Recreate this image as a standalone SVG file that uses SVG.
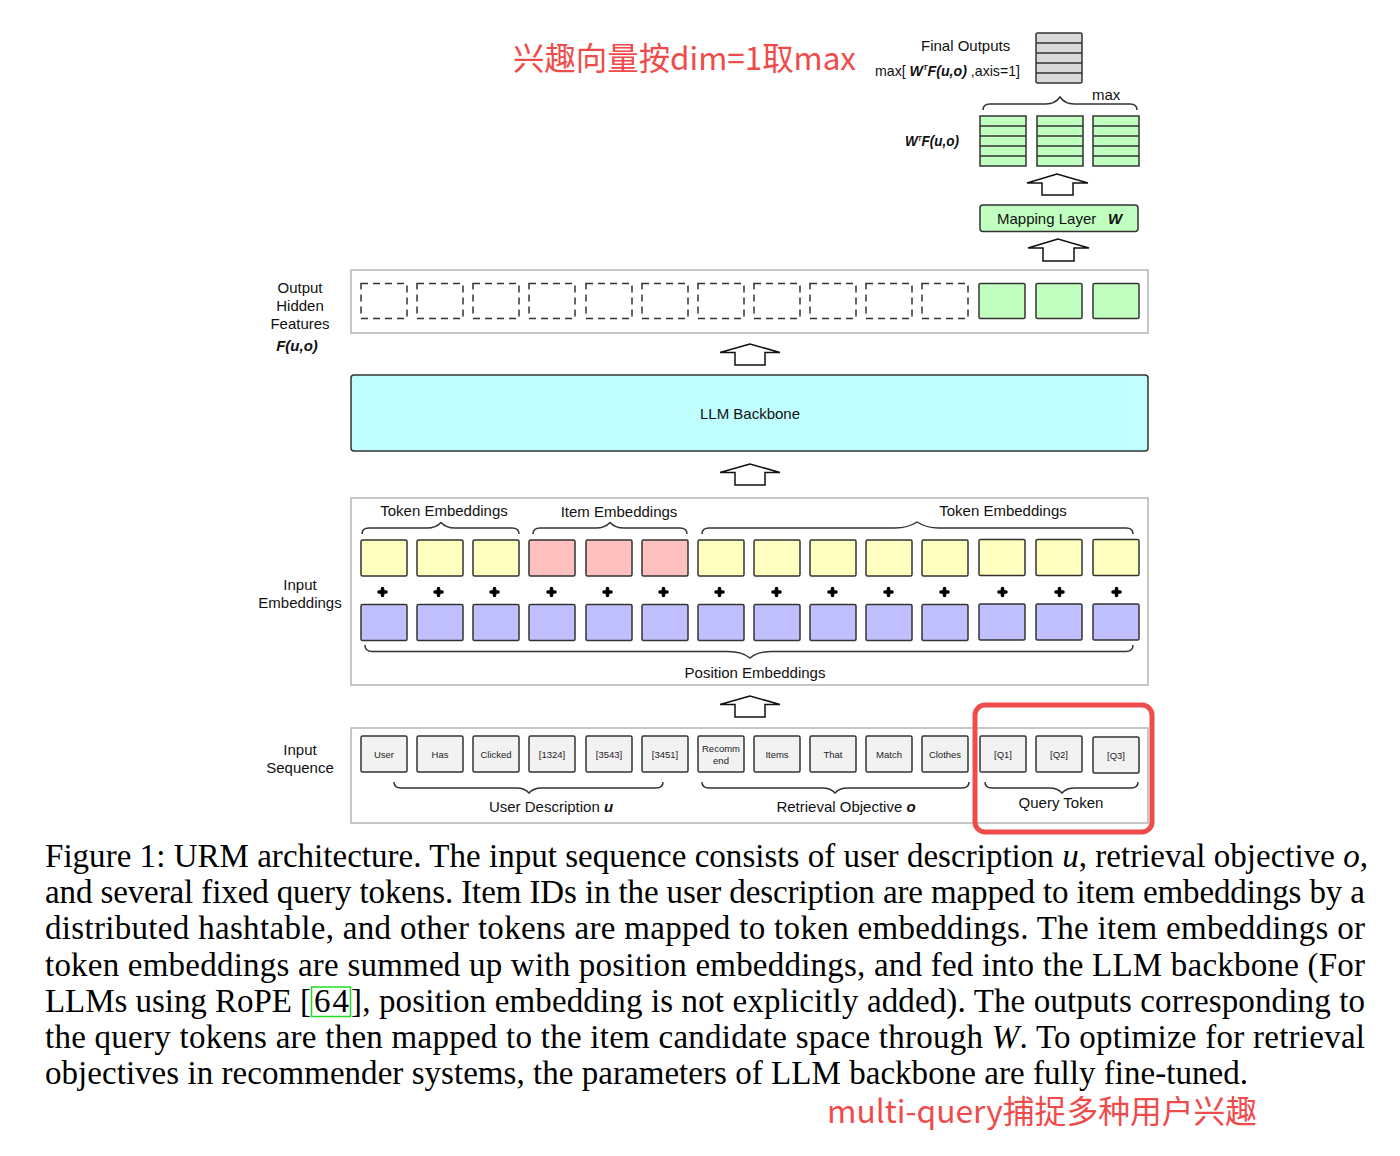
<svg xmlns="http://www.w3.org/2000/svg" width="1400" height="1156" viewBox="0 0 1400 1156">
<style>
.t{font-family:"Liberation Sans",Arial,sans-serif;font-size:15px;fill:#111}
.lbl{font-family:"Liberation Sans",Arial,sans-serif;font-size:15px;fill:#111;text-anchor:middle}
.bi{font-weight:bold;font-style:italic}
.ct{font-family:"Liberation Sans",Arial,sans-serif;font-size:9.5px;fill:#222;text-anchor:middle}
.cap{font-family:"Liberation Serif","Times New Roman",serif;font-size:33px;fill:#000}
.red{font-family:"Noto Sans CJK SC","Noto Sans",sans-serif;font-size:31.5px;fill:#F04B4B}
.panel{fill:#fff;stroke:#b5b5b5;stroke-width:1.5}
.cell{stroke:#333;stroke-width:1.5}
.y{fill:#FFFFC0}.p{fill:#FFC0C0}.b{fill:#C0C0FF}.g{fill:#C0FFC0}.s{fill:#F2F2F2}.gr{fill:#D9D9D9}
.dash{fill:none;stroke:#333;stroke-width:1.5;stroke-dasharray:7,5}
.brace{fill:none;stroke:#333;stroke-width:1.5}
.arrow{fill:#fff;stroke:#111;stroke-width:1.5;stroke-linejoin:miter}
.row{stroke:#333;stroke-width:1.5}
.plus{stroke:#000;stroke-width:3.6;stroke-linecap:round}
</style>

<!-- Annotation title -->
<text class="red" x="513" y="70" textLength="343" lengthAdjust="spacingAndGlyphs">兴趣向量按dim=1取max</text>

<!-- Final outputs -->
<g id="final-outputs">
  <text class="t" x="921" y="51">Final Outputs</text>
  <text class="t" x="875" y="76" textLength="145" lengthAdjust="spacingAndGlyphs">max[ <tspan class="bi">W</tspan><tspan class="bi" font-size="8" dy="-6">T</tspan><tspan class="bi" dy="6">F(u,o)</tspan> ,axis=1]</text>
  <rect class="cell gr" x="1036" y="33" width="46" height="50" rx="1.5"/>
  <path class="row" d="M1036,43h46M1036,53h46M1036,63h46M1036,73h46"/>
</g>

<!-- W^T F(u,o) matrices -->
<g id="wtf">
  <text class="t bi" x="905" y="146" font-size="12.5" textLength="54" lengthAdjust="spacingAndGlyphs">W<tspan font-size="7" dy="-5">T</tspan><tspan dy="5">F(u,o)</tspan></text>
  <text class="t" x="1092" y="100">max</text>
  <path class="brace" d="M983,110 Q983,104 990,104 L1046,104 Q1055,104 1060,97 Q1065,104 1074,104 L1130,104 Q1137,104 1137,110"/>
  <rect class="cell g" x="980" y="116" width="46" height="50"/>
  <path class="row" d="M980,126h46M980,136h46M980,146h46M980,156h46"/>
  <rect class="cell g" x="1037" y="116" width="46" height="50"/>
  <path class="row" d="M1037,126h46M1037,136h46M1037,146h46M1037,156h46"/>
  <rect class="cell g" x="1093" y="116" width="46" height="50"/>
  <path class="row" d="M1093,126h46M1093,136h46M1093,146h46M1093,156h46"/>
</g>

<!-- Mapping layer -->
<g id="mapping-layer">
  <rect class="cell g" x="980" y="205" width="158" height="26.5" rx="3"/>
  <text class="t" x="997" y="224">Mapping Layer</text>
  <text class="t bi" x="1108" y="224">W</text>
</g>

<!-- Output hidden features -->
<g id="output-hidden">
  <text class="lbl" x="300" y="293">Output</text>
  <text class="lbl" x="300" y="311">Hidden</text>
  <text class="lbl" x="300" y="329">Features</text>
  <text class="lbl bi" x="297" y="351" font-size="13.5">F(u,o)</text>
  <rect class="panel" x="351" y="270" width="797" height="63"/>
  <rect class="dash" x="361" y="283.5" width="46" height="35"/>
  <rect class="dash" x="417" y="283.5" width="46" height="35"/>
  <rect class="dash" x="473" y="283.5" width="46" height="35"/>
  <rect class="dash" x="529" y="283.5" width="46" height="35"/>
  <rect class="dash" x="586" y="283.5" width="46" height="35"/>
  <rect class="dash" x="642" y="283.5" width="46" height="35"/>
  <rect class="dash" x="698" y="283.5" width="46" height="35"/>
  <rect class="dash" x="754" y="283.5" width="46" height="35"/>
  <rect class="dash" x="810" y="283.5" width="46" height="35"/>
  <rect class="dash" x="866" y="283.5" width="46" height="35"/>
  <rect class="dash" x="922" y="283.5" width="46" height="35"/>
  <rect class="cell g" x="979" y="283.5" width="46" height="35" rx="1.5"/>
  <rect class="cell g" x="1036" y="283.5" width="46" height="35" rx="1.5"/>
  <rect class="cell g" x="1093" y="283.5" width="46" height="35" rx="1.5"/>
</g>

<!-- LLM backbone -->
<g id="llm-backbone">
  <rect x="351" y="375" width="797" height="76" rx="3" fill="#BFFFFF" stroke="#333" stroke-width="1.5"/>
  <text class="lbl" x="750" y="419">LLM Backbone</text>
</g>

<!-- Input embeddings -->
<g id="input-embeddings">
  <text class="lbl" x="300" y="590">Input</text>
  <text class="lbl" x="300" y="608">Embeddings</text>
  <rect class="panel" x="351" y="498" width="797" height="187"/>
  <text class="lbl" x="444" y="516">Token Embeddings</text>
  <text class="lbl" x="619" y="517">Item Embeddings</text>
  <text class="lbl" x="1003" y="516">Token Embeddings</text>
  <path class="brace" d="M362,534 Q362,528 369,528 L427,528 Q436,528 441,522.5 Q446,528 455,528 L512,528 Q519,528 519,534"/>
  <path class="brace" d="M533,534 Q533,528 540,528 L596,528 Q605,528 610,522.5 Q615,528 624,528 L680,528 Q687,528 687,534"/>
  <path class="brace" d="M702,534 Q702,528 709,528 L895,528 Q908,528 917,522 Q926,528 939,528 L1126,528 Q1133,528 1133,534"/>
  <rect class="cell y" x="361" y="540" width="46" height="36" rx="1.5"/>
  <rect class="cell y" x="417" y="540" width="46" height="36" rx="1.5"/>
  <rect class="cell y" x="473" y="540" width="46" height="36" rx="1.5"/>
  <rect class="cell p" x="529" y="540" width="46" height="36" rx="1.5"/>
  <rect class="cell p" x="586" y="540" width="46" height="36" rx="1.5"/>
  <rect class="cell p" x="642" y="540" width="46" height="36" rx="1.5"/>
  <rect class="cell y" x="698" y="540" width="46" height="36" rx="1.5"/>
  <rect class="cell y" x="754" y="540" width="46" height="36" rx="1.5"/>
  <rect class="cell y" x="810" y="540" width="46" height="36" rx="1.5"/>
  <rect class="cell y" x="866" y="540" width="46" height="36" rx="1.5"/>
  <rect class="cell y" x="922" y="540" width="46" height="36" rx="1.5"/>
  <rect class="cell y" x="979" y="539.5" width="46" height="36" rx="1.5"/>
  <rect class="cell y" x="1036" y="539.5" width="46" height="36" rx="1.5"/>
  <rect class="cell y" x="1093" y="539.5" width="46" height="36" rx="1.5"/>
  <path class="plus" d="M379,592h7M382.5,588.5v7 M435,592h7M438.5,588.5v7 M491,592h7M494.5,588.5v7 M548,592h7M551.5,588.5v7 M604,592h7M607.5,588.5v7 M660,592h7M663.5,588.5v7 M716,592h7M719.5,588.5v7 M773,592h7M776.5,588.5v7 M829,592h7M832.5,588.5v7 M885,592h7M888.5,588.5v7 M941,592h7M944.5,588.5v7 M999,592h7M1002.5,588.5v7 M1056,592h7M1059.5,588.5v7 M1113,592h7M1116.5,588.5v7"/>
  <rect class="cell b" x="361" y="604.5" width="46" height="36" rx="1.5"/>
  <rect class="cell b" x="417" y="604.5" width="46" height="36" rx="1.5"/>
  <rect class="cell b" x="473" y="604.5" width="46" height="36" rx="1.5"/>
  <rect class="cell b" x="529" y="604.5" width="46" height="36" rx="1.5"/>
  <rect class="cell b" x="586" y="604.5" width="46" height="36" rx="1.5"/>
  <rect class="cell b" x="642" y="604.5" width="46" height="36" rx="1.5"/>
  <rect class="cell b" x="698" y="604.5" width="46" height="36" rx="1.5"/>
  <rect class="cell b" x="754" y="604.5" width="46" height="36" rx="1.5"/>
  <rect class="cell b" x="810" y="604.5" width="46" height="36" rx="1.5"/>
  <rect class="cell b" x="866" y="604.5" width="46" height="36" rx="1.5"/>
  <rect class="cell b" x="922" y="604.5" width="46" height="36" rx="1.5"/>
  <rect class="cell b" x="979" y="604" width="46" height="36" rx="1.5"/>
  <rect class="cell b" x="1036" y="604" width="46" height="36" rx="1.5"/>
  <rect class="cell b" x="1093" y="604" width="46" height="36" rx="1.5"/>
  <path class="brace" d="M365,645 Q365,651.5 372,651.5 L728,651.5 Q742,651.5 750,658 Q758,651.5 772,651.5 L1126,651.5 Q1133,651.5 1133,645"/>
  <text class="lbl" x="755" y="678">Position Embeddings</text>
</g>

<!-- Input sequence -->
<g id="input-sequence">
  <text class="lbl" x="300" y="755">Input</text>
  <text class="lbl" x="300" y="773">Sequence</text>
  <rect class="panel" x="351" y="728" width="797" height="95"/>
  <rect class="cell s" x="361" y="736" width="46" height="36" rx="1.5"/>
  <rect class="cell s" x="417" y="736" width="46" height="36" rx="1.5"/>
  <rect class="cell s" x="473" y="736" width="46" height="36" rx="1.5"/>
  <rect class="cell s" x="529" y="736" width="46" height="36" rx="1.5"/>
  <rect class="cell s" x="586" y="736" width="46" height="36" rx="1.5"/>
  <rect class="cell s" x="642" y="736" width="46" height="36" rx="1.5"/>
  <rect class="cell s" x="698" y="736" width="46" height="36" rx="1.5"/>
  <rect class="cell s" x="754" y="736" width="46" height="36" rx="1.5"/>
  <rect class="cell s" x="810" y="736" width="46" height="36" rx="1.5"/>
  <rect class="cell s" x="866" y="736" width="46" height="36" rx="1.5"/>
  <rect class="cell s" x="922" y="736" width="46" height="36" rx="1.5"/>
  <rect class="cell s" x="980" y="736" width="46" height="36" rx="1.5"/>
  <rect class="cell s" x="1036" y="736" width="46" height="36" rx="1.5"/>
  <rect class="cell s" x="1093" y="737" width="46" height="36" rx="1.5"/>
  <text class="ct" x="384" y="757.5">User</text>
  <text class="ct" x="440" y="757.5">Has</text>
  <text class="ct" x="496" y="757.5">Clicked</text>
  <text class="ct" x="552" y="757.5">[1324]</text>
  <text class="ct" x="609" y="757.5">[3543]</text>
  <text class="ct" x="665" y="757.5">[3451]</text>
  <text class="ct" x="721" y="752">Recomm</text>
  <text class="ct" x="721" y="763.5">end</text>
  <text class="ct" x="777" y="757.5">Items</text>
  <text class="ct" x="833" y="757.5">That</text>
  <text class="ct" x="889" y="757.5">Match</text>
  <text class="ct" x="945" y="757.5">Clothes</text>
  <text class="ct" x="1003" y="757.5">[Q1]</text>
  <text class="ct" x="1059" y="757.5">[Q2]</text>
  <text class="ct" x="1116" y="759">[Q3]</text>
  <path class="brace" d="M394,782 Q394,788 401,788 L516,788 Q525,788 529,793 Q533,788 542,788 L656,788 Q663,788 663,782"/>
  <path class="brace" d="M702,782 Q702,788 709,788 L822,788 Q831,788 835,793 Q839,788 848,788 L962,788 Q969,788 969,782"/>
  <path class="brace" d="M985,782 Q985,788 992,788 L1049,788 Q1058,788 1062,793 Q1066,788 1075,788 L1131,788 Q1138,788 1138,782"/>
  <text class="lbl" x="551" y="812">User Description <tspan class="bi">u</tspan></text>
  <text class="lbl" x="846" y="812">Retrieval Objective <tspan class="bi">o</tspan></text>
  <text class="lbl" x="1061" y="808">Query Token</text>
</g>

<!-- Highlight of query tokens -->
<rect id="query-highlight" x="975" y="705" width="177" height="127" rx="10" fill="none" stroke="#F04B4B" stroke-width="5"/>

<!-- Connectors (hollow up arrows) -->
<g id="connectors">
  <path class="arrow" d="M1057,174 L1027,183 L1042,183 L1042,195 L1073,195 L1073,183 L1088,183 Z"/>
  <path class="arrow" d="M1058,239 L1028,248 L1043,248 L1043,261 L1074,261 L1074,248 L1089,248 Z"/>
  <path class="arrow" d="M750,344 L720,352.5 L735,352.5 L735,365 L765,365 L765,352.5 L780,352.5 Z"/>
  <path class="arrow" d="M750,464 L720,472.5 L735,472.5 L735,485 L765,485 L765,472.5 L780,472.5 Z"/>
  <path class="arrow" d="M750,696 L720,704.5 L735,704.5 L735,717 L765,717 L765,704.5 L780,704.5 Z"/>
</g>

<!-- Caption -->
<g id="caption">
  <text class="cap" x="45" y="867" textLength="1323" lengthAdjust="spacing">Figure 1: URM architecture. The input sequence consists of user description <tspan font-style="italic">u</tspan>, retrieval objective <tspan font-style="italic">o</tspan>,</text>
  <text class="cap" x="45" y="903" textLength="1320" lengthAdjust="spacing">and several fixed query tokens. Item IDs in the user description are mapped to item embeddings by a</text>
  <text class="cap" x="45" y="939" textLength="1320" lengthAdjust="spacing">distributed hashtable, and other tokens are mapped to token embeddings. The item embeddings or</text>
  <text class="cap" x="45" y="976" textLength="1320" lengthAdjust="spacing">token embeddings are summed up with position embeddings, and fed into the LLM backbone (For</text>
  <text class="cap" x="45" y="1012" textLength="266" lengthAdjust="spacing">LLMs using RoPE [</text>
  <text class="cap" x="314" y="1012" textLength="35" lengthAdjust="spacing">64</text>
  <text class="cap" x="351" y="1012" textLength="1014" lengthAdjust="spacing">], position embedding is not explicitly added). The outputs corresponding to</text>
  <rect x="311.5" y="987" width="39" height="29.5" fill="none" stroke="#22DD22" stroke-width="1.5"/>
  <text class="cap" x="45" y="1048" textLength="1320" lengthAdjust="spacing">the query tokens are then mapped to the item candidate space through <tspan font-style="italic">W</tspan>. To optimize for retrieval</text>
  <text class="cap" x="45" y="1084" textLength="1203" lengthAdjust="spacing">objectives in recommender systems, the parameters of LLM backbone are fully fine-tuned.</text>
</g>

<text class="red" x="827" y="1123" textLength="430" lengthAdjust="spacingAndGlyphs">multi-query捕捉多种用户兴趣</text>
</svg>
